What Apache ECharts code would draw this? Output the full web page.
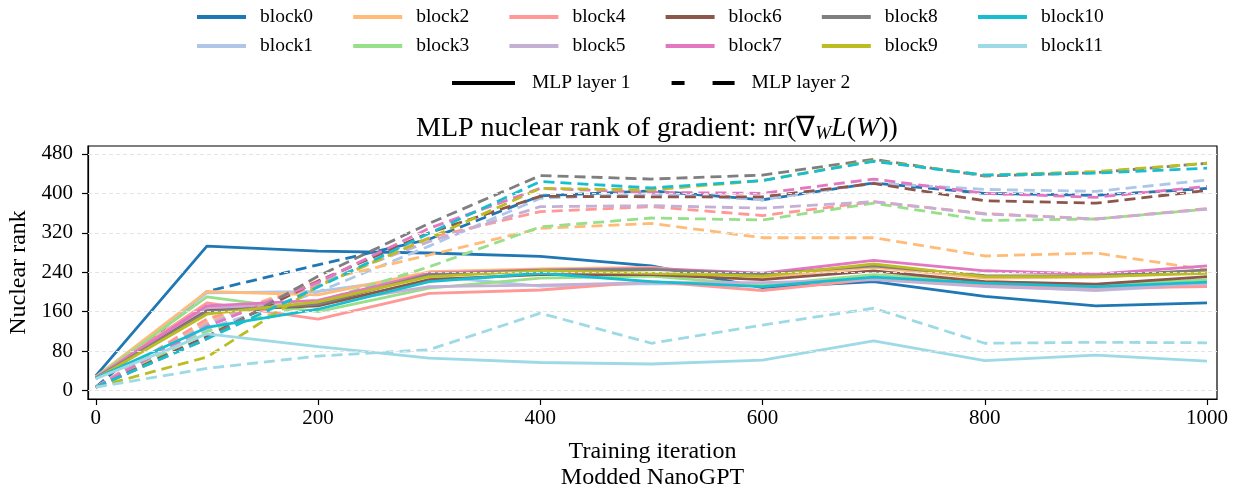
<!DOCTYPE html>
<html>
<head>
<meta charset="utf-8">
<script src="https://cdn.jsdelivr.net/npm/echarts@6/dist/echarts.min.js"></script>
<style>html,body{margin:0;padding:0;background:#fff;}#c{width:1239px;height:489px;}</style>
</head>
<body>
<div id="c"></div>
<script>
const iterations = [0, 100, 200, 300, 400, 500, 600, 700, 800, 900, 1000];
const blockNames = ['block0','block1','block2','block3','block4','block5','block6','block7','block8','block9','block10','block11'];
const blockColors = ['#1f77b4','#aec7e8','#ffbb78','#98df8a','#ff9896','#c5b0d5','#8c564b','#e377c2','#7f7f7f','#bcbd22','#17becf','#9edae5'];
const yTicks = [0, 80, 160, 240, 320, 400, 480];
const xTicks = [0, 200, 400, 600, 800, 1000];

// MLP layer 1 (solid)
const layer1_block0  = [30, 293, 283, 279, 272, 253, 209, 221, 191, 172, 178];
const layer1_block1  = [27, 198, 201, 232, 212, 217, 215, 228, 213, 203, 215];
const layer1_block2  = [28, 201, 194, 241, 247, 250, 230, 250, 228, 230, 241];
const layer1_block3  = [27, 190, 160, 208, 228, 232, 214, 235, 221, 215, 225];
const layer1_block4  = [26, 178, 145, 197, 204, 221, 203, 226, 215, 208, 211];
const layer1_block5  = [26, 168, 175, 211, 214, 219, 219, 225, 211, 204, 218];
const layer1_block6  = [25, 162, 172, 225, 235, 235, 225, 243, 221, 216, 231];
const layer1_block7  = [26, 172, 183, 238, 245, 248, 238, 264, 243, 236, 253];
const layer1_block8  = [25, 160, 175, 235, 244, 246, 236, 253, 233, 232, 245];
const layer1_block9  = [24, 155, 180, 231, 243, 238, 232, 257, 231, 231, 238];
const layer1_block10 = [25, 128, 165, 221, 238, 221, 211, 230, 218, 211, 220];
const layer1_block11 = [24, 115, 89, 66, 57, 54, 62, 101, 61, 72, 60];

// MLP layer 2 (dashed)
const layer2_block0  = [7, 201, 255, 307, 395, 405, 387, 421, 400, 396, 410];
const layer2_block1  = [7, 125, 200, 293, 390, 399, 387, 421, 408, 404, 427];
const layer2_block2  = [7, 140, 222, 275, 329, 339, 310, 310, 273, 279, 245];
const layer2_block3  = [7, 120, 180, 251, 332, 350, 346, 380, 345, 348, 368];
const layer2_block4  = [7, 145, 213, 310, 363, 373, 355, 383, 359, 348, 369];
const layer2_block5  = [7, 135, 218, 302, 373, 375, 370, 383, 358, 348, 368];
const layer2_block6  = [7, 110, 222, 320, 394, 393, 393, 420, 385, 380, 406];
const layer2_block7  = [7, 130, 220, 329, 410, 402, 400, 429, 400, 392, 414];
const layer2_block8  = [7, 105, 232, 339, 436, 429, 437, 469, 435, 442, 461];
const layer2_block9  = [7, 68, 212, 309, 410, 407, 426, 466, 437, 444, 461];
const layer2_block10 = [7, 105, 210, 319, 424, 411, 426, 465, 437, 441, 451];
const layer2_block11 = [7, 45, 70, 83, 157, 96, 133, 167, 96, 98, 97];

const layer1 = [layer1_block0,layer1_block1,layer1_block2,layer1_block3,layer1_block4,layer1_block5,layer1_block6,layer1_block7,layer1_block8,layer1_block9,layer1_block10,layer1_block11];
const layer2 = [layer2_block0,layer2_block1,layer2_block2,layer2_block3,layer2_block4,layer2_block5,layer2_block6,layer2_block7,layer2_block8,layer2_block9,layer2_block10,layer2_block11];

const FONT = 'Liberation Serif';
const pairs = arr => arr.map((v, i) => [iterations[i], v]);

const series = [];
series.push({
  type: 'line', name: '_grid', data: [], silent: true, symbol: 'none',
  markLine: {
    silent: true, symbol: 'none', label: {show: false},
    lineStyle: {color: '#e3e3e3', type: [4, 3], width: 1},
    data: yTicks.map(v => ({yAxis: v}))
  }
});
for (let b = 0; b < 12; b++) {
  series.push({
    type: 'line', name: blockNames[b], data: pairs(layer1[b]), symbol: 'none',
    color: blockColors[b], lineStyle: {width: 2.8, color: blockColors[b]}, z: 3
  });
  series.push({
    type: 'line', name: blockNames[b], data: pairs(layer2[b]), symbol: 'none',
    color: blockColors[b], lineStyle: {width: 2.8, type: [11, 6], color: blockColors[b]}, z: 3
  });
}
series.push({type: 'line', name: 'MLP layer 1', data: [], symbol: 'none', color: '#000', lineStyle: {color: '#000', width: 4}});
series.push({type: 'line', name: 'MLP layer 2', data: [], symbol: 'none', color: '#000', lineStyle: {color: '#000', width: 4}});

const legends = [];
for (let c = 0; c < 6; c++) {
  legends.push({
    orient: 'vertical', left: 197 + 156.2 * c, top: 7, padding: 0,
    itemWidth: 49, itemHeight: 4, itemGap: 9,
    icon: 'rect',
    data: [blockNames[2 * c], blockNames[2 * c + 1]],
    textStyle: {fontFamily: FONT, fontSize: 19.5, color: '#000', padding: [0, 0, 0, 9]},
    selectedMode: false
  });
}
legends.push({
  orient: 'horizontal', left: 452, top: 73, padding: 0,
  itemWidth: 63, itemHeight: 4, itemGap: 41,
  data: [
    {name: 'MLP layer 1', icon: 'path://M0,0h63v4h-63z'},
    {name: 'MLP layer 2', icon: 'path://M0,0h13v4h-13z M41,0h22v4h-22z'}
  ],
  textStyle: {fontFamily: FONT, fontSize: 19.5, color: '#000', padding: [0, 0, 0, 12]},
  selectedMode: false
});

const option = {
  animation: false,
  backgroundColor: '#fff',
  textStyle: {fontFamily: FONT},
  title: {
    left: 652, top: 109, textAlign: 'center',
    text: '{a|MLP nuclear rank of gradient: nr(\u2207}{sub|W}{it|L}{a|(}{it|W}{a|))}',
    textStyle: {
      fontWeight: 'normal', fontFamily: FONT, fontSize: 28, color: '#000',
      rich: {
        a: {fontFamily: FONT, fontSize: 28, fontWeight: 'normal', color: '#000'},
        it: {fontFamily: FONT, fontSize: 28, fontWeight: 'normal', fontStyle: 'italic', color: '#000'},
        sub: {fontFamily: FONT, fontSize: 19, fontWeight: 'normal', fontStyle: 'italic', color: '#000', verticalAlign: 'bottom', padding: [10, 0, 0, 0]}
      }
    }
  },
  legend: legends,
  grid: {left: 88, right: 22, top: 146, bottom: 90, show: true, borderColor: '#000', borderWidth: 1.2, containLabel: false, outerBoundsMode: 'none'},
  xAxis: {
    type: 'value', min: -7, max: 1009,
    name: 'Training iteration\nModded NanoGPT', nameLocation: 'middle', nameGap: 40,
    nameTextStyle: {fontFamily: FONT, fontSize: 24, color: '#000', lineHeight: 26},
    axisLine: {show: true, onZero: false, lineStyle: {color: '#000', width: 1.2}},
    axisTick: {show: true, length: 6, customValues: xTicks, lineStyle: {color: '#000', width: 1.2}},
    axisLabel: {customValues: xTicks, formatter: v => String(v), fontFamily: FONT, fontSize: 21, color: '#000', margin: 9},
    splitLine: {show: false}
  },
  yAxis: {
    type: 'value', min: -17, max: 496,
    name: 'Nuclear rank', nameLocation: 'middle', nameGap: 49, nameRotate: 90,
    nameTextStyle: {fontFamily: FONT, fontSize: 24, color: '#000'},
    axisLine: {show: true, onZero: false, lineStyle: {color: '#000', width: 1.2}},
    axisTick: {show: true, length: 6, customValues: yTicks, lineStyle: {color: '#000', width: 1.2}},
    axisLabel: {customValues: yTicks, formatter: v => String(v), fontFamily: FONT, fontSize: 21, color: '#000', margin: 15},
    splitLine: {show: false}
  },
  series: series
};

const chart = echarts.init(document.getElementById('c'), null, {renderer: 'canvas'});
chart.setOption(option);
</script>
</body>
</html>
